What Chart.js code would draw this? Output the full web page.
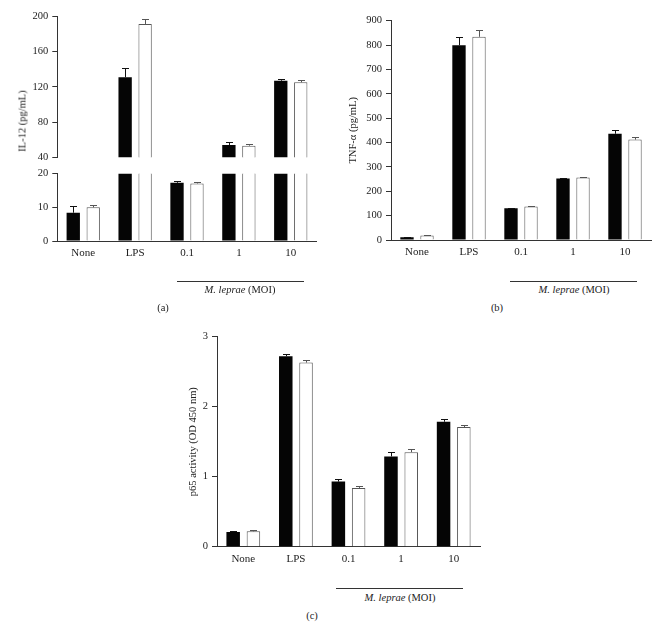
<!DOCTYPE html>
<html>
<head>
<meta charset="utf-8">
<script src="https://cdn.jsdelivr.net/npm/chart.js@4.4.0/dist/chart.umd.min.js"></script>
<style>
  body { margin: 0; background: #fff; width: 663px; height: 626px; position: relative; overflow: hidden;
         font-family: "Liberation Serif", "DejaVu Serif", serif; color: #222; }
  .plot { position: absolute; }
  .note { position: absolute; font-size: 10.5px; white-space: nowrap; transform: translate(-50%, -50%); }
  .rule { position: absolute; height: 0; border-top: 1px solid #333; }
  .ytitle { position: absolute; font-size: 10.5px; white-space: nowrap; transform: translate(-50%, -50%) rotate(-90deg); }
</style>
</head>
<body>
<div class="plot" style="left:0;top:0;width:330px;height:170px"><canvas id="il12Top"></canvas></div>
<div class="plot" style="left:0;top:160px;width:330px;height:110px"><canvas id="il12Bottom"></canvas></div>
<div class="plot" style="left:340px;top:0;width:323px;height:270px"><canvas id="tnf"></canvas></div>
<div class="plot" style="left:180px;top:320px;width:310px;height:260px"><canvas id="p65"></canvas></div>

<div class="ytitle" style="left:22px;top:121px">IL-12 (pg/mL)</div>

<div class="rule" style="left:177px;top:281px;width:127px"></div>
<div class="note" style="left:240px;top:289px"><i>M. leprae</i> (MOI)</div>
<div class="note" style="left:163px;top:307px">(a)</div>

<div class="rule" style="left:510px;top:281px;width:127px"></div>
<div class="note" style="left:574px;top:289px"><i>M. leprae</i> (MOI)</div>
<div class="note" style="left:497px;top:307px">(b)</div>

<div class="rule" style="left:336px;top:588px;width:127px"></div>
<div class="note" style="left:400px;top:597px"><i>M. leprae</i> (MOI)</div>
<div class="note" style="left:312px;top:615px">(c)</div>

<script>
// groups on the x axis
const categories = ['None', 'LPS', '0.1', '1', '10'];

// (a) IL-12, pg/mL (broken axis 0-20 / 40-200)
const il12Black = [8.4, 131, 17.3, 54, 127];
const il12BlackErr = [2.0, 11, 0.5, 3.7, 2.3];
const il12White = [10.0, 191.5, 17.1, 53.2, 125.2];
const il12WhiteErr = [0.8, 5.3, 0.3, 2.3, 2.3];
const il12TopTicks = [40, 80, 120, 160, 200];
const il12BottomTicks = [0, 10, 20];

// (b) TNF-alpha, pg/mL
const tnfBlack = [11, 799, 130, 252, 436];
const tnfBlackErr = [1, 36, 3, 2, 16];
const tnfWhite = [18, 834, 137, 256, 412];
const tnfWhiteErr = [2.5, 26, 1, 3, 11];
const tnfTicks = [0, 100, 200, 300, 400, 500, 600, 700, 800, 900];

// (c) p65 activity, OD 450 nm
const p65Black = [0.21, 2.72, 0.93, 1.29, 1.785];
const p65BlackErr = [0.01, 0.03, 0.03, 0.07, 0.045];
const p65White = [0.22, 2.63, 0.84, 1.35, 1.71];
const p65WhiteErr = [0.02, 0.04, 0.03, 0.045, 0.03];
const p65Ticks = [0, 1, 2, 3];

Chart.defaults.font.family = '"Liberation Serif", "DejaVu Serif", serif';
Chart.defaults.color = '#222';
Chart.defaults.animation = false;

// T-shaped error bars above each bar
const errorBars = {
    id: 'errorBars',
    afterDatasetsDraw(chart) {
        const ctx = chart.ctx;
        const y = chart.scales.y;
        chart.data.datasets.forEach((ds, i) => {
            const meta = chart.getDatasetMeta(i);
            meta.data.forEach((bar, j) => {
                const v = ds.data[j];
                if (v == null || v < y.min || v > y.max) return;
                const x = Math.round(bar.x) + 0.5;
                const yTop = Math.round(y.getPixelForValue(v + ds.err[j])) + 0.5;
                ctx.save();
                ctx.strokeStyle = ds.errColor;
                ctx.lineWidth = 1;
                ctx.beginPath();
                ctx.moveTo(x, bar.y);
                ctx.lineTo(x, yTop);
                ctx.moveTo(x - 3.5, yTop);
                ctx.lineTo(x + 3.5, yTop);
                ctx.stroke();
                ctx.restore();
            });
        });
    }
};

function barSets(black, blackErr, white, whiteErr) {
    return [
        { data: black, err: blackErr, errColor: '#111', backgroundColor: '#050505', borderWidth: 0,
          categoryPercentage: 0.77, barPercentage: 0.667, clip: 0 },
        { data: white, err: whiteErr, errColor: '#555', backgroundColor: '#fff', borderColor: '#555', borderWidth: 1,
          categoryPercentage: 0.77, barPercentage: 0.667, clip: 0 }
    ];
}

function makePanel(id, datasets, cfg) {
    return new Chart(document.getElementById(id), {
        type: 'bar',
        data: { labels: categories, datasets: datasets },
        plugins: [errorBars],
        options: {
            responsive: true,
            maintainAspectRatio: false,
            layout: { padding: cfg.padding },
            plugins: { legend: { display: false }, tooltip: { enabled: false } },
            scales: {
                x: {
                    display: cfg.showX,
                    grid: { display: false, drawTicks: false },
                    border: { display: true, color: '#333', width: 1 },
                    ticks: { font: { size: 11 }, padding: 6, color: '#222' },
                    afterFit: (s) => { s.height = cfg.xHeight; }
                },
                y: {
                    min: cfg.yTicks[0],
                    max: cfg.yTicks[cfg.yTicks.length - 1],
                    afterBuildTicks: (s) => { s.ticks = cfg.yTicks.map(v => ({ value: v })); },
                    afterFit: (s) => { s.width = cfg.yWidth; },
                    grid: { drawOnChartArea: false, drawTicks: true, tickLength: 5, color: '#333' },
                    border: { display: true, color: '#333', width: 1 },
                    ticks: { font: { size: 10.5 }, padding: 4, color: '#222' },
                    title: cfg.title ? {
                        display: true, text: cfg.title, font: { size: 10.5 }, color: '#222',
                        padding: { top: cfg.titlePad, bottom: 0 }
                    } : { display: false }
                }
            }
        }
    });
}

// (a) upper part of the broken axis: only bars above 40
makePanel('il12Top', barSets(
        il12Black.map(v => v >= 40 ? v : null), il12BlackErr,
        il12White.map(v => v >= 40 ? v : null), il12WhiteErr), {
    yTicks: il12TopTicks, yWidth: 57.3, xHeight: 0, showX: false,
    padding: { top: 16.5, right: 13.3, bottom: 12.7, left: 0 }
});

// (a) lower part, bars clipped at 20
makePanel('il12Bottom', barSets(il12Black, il12BlackErr, il12White, il12WhiteErr), {
    yTicks: il12BottomTicks, yWidth: 57.3, xHeight: 29, showX: true,
    padding: { top: 13.7, right: 13.3, bottom: 0, left: 0 }
});

makePanel('tnf', barSets(tnfBlack, tnfBlackErr, tnfWhite, tnfWhiteErr), {
    yTicks: tnfTicks, yWidth: 51, xHeight: 30, showX: true,
    title: 'TNF-α (pg/mL)', titlePad: 7,
    padding: { top: 20.7, right: 12, bottom: 0, left: 0 }
});

makePanel('p65', barSets(p65Black, p65BlackErr, p65White, p65WhiteErr), {
    yTicks: p65Ticks, yWidth: 37, xHeight: 33.3, showX: true,
    title: 'p65 activity (OD 450 nm)', titlePad: 6.5,
    padding: { top: 16.7, right: 10, bottom: 0, left: 0 }
});
</script>
</body>
</html>
